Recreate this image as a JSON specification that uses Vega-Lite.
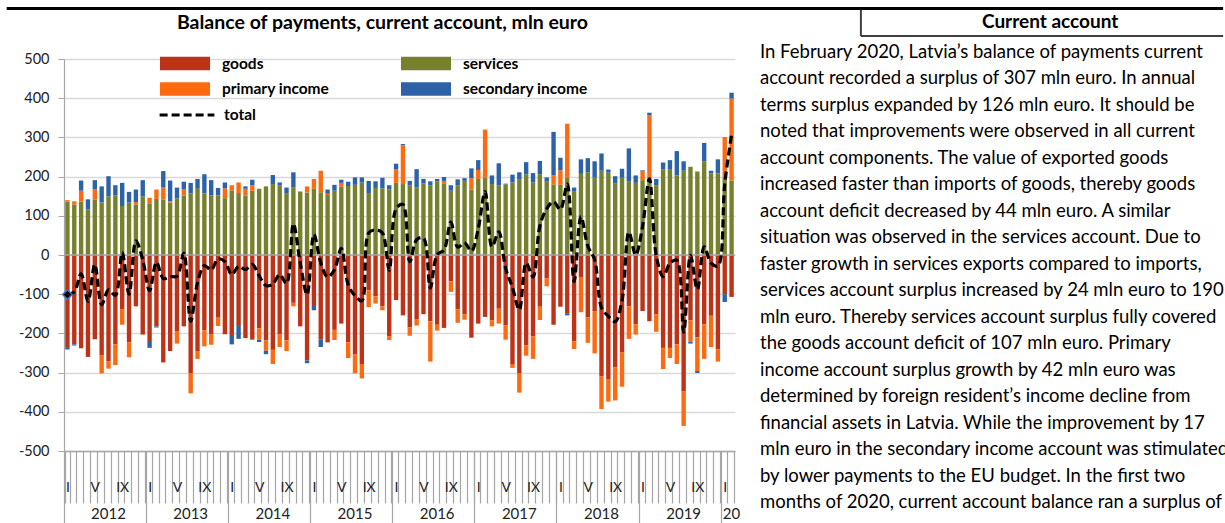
{
  "$schema": "https://vega.github.io/schema/vega-lite/v6.json",
  "padding": {"left": 5, "top": 7, "right": 0, "bottom": 0},
  "background": "white",
  "bounds": "flush",
  "spacing": 25,
  "config": {"view": {"stroke": null}, "font": "Lato"},
  "datasets": {
    "ord": [
      {"series": "goods", "o": 1},
      {"series": "services", "o": 2},
      {"series": "primary income", "o": 3},
      {"series": "secondary income", "o": 4}
    ]
  },
  "hconcat": [
    {
      "width": 671,
      "height": 392,
      "title": {"text": "Balance of payments, current account, mln euro", "font": "Lato", "fontSize": 19.5, "fontWeight": "bold", "color": "#000", "anchor": "middle", "offset": 18, "dx": -17},
      "data": {"values": [
        {"m":"2012-01","goods":-235,"services":136,"primary income":4,"secondary income":-6,"total":-101},
        {"m":"2012-02","goods":-228,"services":129,"primary income":8,"secondary income":-3,"total":-94},
        {"m":"2012-03","goods":-238,"services":136,"primary income":28,"secondary income":26,"total":-48},
        {"m":"2012-04","goods":-260,"services":116,"primary income":0,"secondary income":26,"total":-118},
        {"m":"2012-05","goods":-215,"services":142,"primary income":25,"secondary income":24,"total":-24},
        {"m":"2012-06","goods":-255,"services":134,"primary income":-47,"secondary income":41,"total":-127},
        {"m":"2012-07","goods":-271,"services":149,"primary income":-19,"secondary income":52,"total":-89},
        {"m":"2012-08","goods":-228,"services":152,"primary income":-53,"secondary income":26,"total":-103},
        {"m":"2012-09","goods":-138,"services":125,"primary income":-40,"secondary income":59,"total":6},
        {"m":"2012-10","goods":-223,"services":134,"primary income":-38,"secondary income":27,"total":-100},
        {"m":"2012-11","goods":-131,"services":129,"primary income":6,"secondary income":32,"total":36},
        {"m":"2012-12","goods":-203,"services":149,"primary income":0,"secondary income":42,"total":-12},
        {"m":"2013-01","goods":-222,"services":132,"primary income":14,"secondary income":-15,"total":-91},
        {"m":"2013-02","goods":-182,"services":143,"primary income":24,"secondary income":-3,"total":-18},
        {"m":"2013-03","goods":-274,"services":142,"primary income":30,"secondary income":42,"total":-60},
        {"m":"2013-04","goods":-245,"services":134,"primary income":3,"secondary income":53,"total":-55},
        {"m":"2013-05","goods":-194,"services":144,"primary income":-32,"secondary income":28,"total":-54},
        {"m":"2013-06","goods":-182,"services":152,"primary income":15,"secondary income":20,"total":5},
        {"m":"2013-07","goods":-301,"services":157,"primary income":-52,"secondary income":27,"total":-169},
        {"m":"2013-08","goods":-245,"services":169,"primary income":-20,"secondary income":25,"total":-71},
        {"m":"2013-09","goods":-192,"services":157,"primary income":-41,"secondary income":49,"total":-27},
        {"m":"2013-10","goods":-203,"services":152,"primary income":-26,"secondary income":39,"total":-38},
        {"m":"2013-11","goods":-160,"services":152,"primary income":-21,"secondary income":19,"total":-10},
        {"m":"2013-12","goods":-202,"services":145,"primary income":25,"secondary income":15,"total":-17},
        {"m":"2014-01","goods":-204,"services":165,"primary income":13,"secondary income":-24,"total":-50},
        {"m":"2014-02","goods":-181,"services":158,"primary income":27,"secondary income":-33,"total":-29},
        {"m":"2014-03","goods":-212,"services":152,"primary income":17,"secondary income":6,"total":-37},
        {"m":"2014-04","goods":-216,"services":164,"primary income":14,"secondary income":14,"total":-24},
        {"m":"2014-05","goods":-187,"services":169,"primary income":-29,"secondary income":-6,"total":-53},
        {"m":"2014-06","goods":-218,"services":175,"primary income":-26,"secondary income":-9,"total":-78},
        {"m":"2014-07","goods":-242,"services":181,"primary income":-36,"secondary income":23,"total":-74},
        {"m":"2014-08","goods":-203,"services":177,"primary income":-32,"secondary income":8,"total":-50},
        {"m":"2014-09","goods":-218,"services":158,"primary income":-27,"secondary income":14,"total":-73},
        {"m":"2014-10","goods":-122,"services":173,"primary income":-9,"secondary income":38,"total":80},
        {"m":"2014-11","goods":-182,"services":162,"primary income":0,"secondary income":0,"total":-20},
        {"m":"2014-12","goods":-269,"services":159,"primary income":16,"secondary income":-7,"total":-101},
        {"m":"2015-01","goods":-130,"services":169,"primary income":25,"secondary income":-11,"total":53},
        {"m":"2015-02","goods":-216,"services":160,"primary income":55,"secondary income":-19,"total":-20},
        {"m":"2015-03","goods":-223,"services":153,"primary income":3,"secondary income":11,"total":-56},
        {"m":"2015-04","goods":-191,"services":164,"primary income":-26,"secondary income":15,"total":-38},
        {"m":"2015-05","goods":-175,"services":174,"primary income":10,"secondary income":8,"total":17},
        {"m":"2015-06","goods":-223,"services":176,"primary income":-40,"secondary income":11,"total":-76},
        {"m":"2015-07","goods":-254,"services":179,"primary income":-48,"secondary income":19,"total":-104},
        {"m":"2015-08","goods":-278,"services":185,"primary income":-37,"secondary income":13,"total":-117},
        {"m":"2015-09","goods":-90,"services":158,"primary income":-43,"secondary income":31,"total":56},
        {"m":"2015-10","goods":-105,"services":171,"primary income":-19,"secondary income":17,"total":64},
        {"m":"2015-11","goods":-131,"services":170,"primary income":-10,"secondary income":27,"total":56},
        {"m":"2015-12","goods":-207,"services":167,"primary income":-10,"secondary income":11,"total":-39},
        {"m":"2016-01","goods":-115,"services":184,"primary income":34,"secondary income":15,"total":118},
        {"m":"2016-02","goods":-154,"services":181,"primary income":99,"secondary income":3,"total":129},
        {"m":"2016-03","goods":-185,"services":177,"primary income":-21,"secondary income":12,"total":-17},
        {"m":"2016-04","goods":-165,"services":172,"primary income":-15,"secondary income":47,"total":39},
        {"m":"2016-05","goods":-151,"services":183,"primary income":0,"secondary income":11,"total":43},
        {"m":"2016-06","goods":-169,"services":177,"primary income":-103,"secondary income":11,"total":-84},
        {"m":"2016-07","goods":-178,"services":188,"primary income":-15,"secondary income":6,"total":1},
        {"m":"2016-08","goods":-186,"services":183,"primary income":6,"secondary income":10,"total":13},
        {"m":"2016-09","goods":-67,"services":164,"primary income":-27,"secondary income":14,"total":84},
        {"m":"2016-10","goods":-139,"services":177,"primary income":-34,"secondary income":16,"total":20},
        {"m":"2016-11","goods":-151,"services":189,"primary income":-14,"secondary income":7,"total":31},
        {"m":"2016-12","goods":-211,"services":167,"primary income":29,"secondary income":25,"total":10},
        {"m":"2017-01","goods":-175,"services":194,"primary income":23,"secondary income":25,"total":67},
        {"m":"2017-02","goods":-158,"services":198,"primary income":122,"secondary income":0,"total":162},
        {"m":"2017-03","goods":-167,"services":181,"primary income":-15,"secondary income":22,"total":21},
        {"m":"2017-04","goods":-137,"services":177,"primary income":-38,"secondary income":57,"total":59},
        {"m":"2017-05","goods":-179,"services":180,"primary income":-37,"secondary income":2,"total":-34},
        {"m":"2017-06","goods":-278,"services":185,"primary income":-10,"secondary income":20,"total":-83},
        {"m":"2017-07","goods":-301,"services":192,"primary income":-50,"secondary income":19,"total":-140},
        {"m":"2017-08","goods":-231,"services":206,"primary income":-26,"secondary income":31,"total":-20},
        {"m":"2017-09","goods":-208,"services":185,"primary income":-57,"secondary income":24,"total":-56},
        {"m":"2017-10","goods":-132,"services":206,"primary income":-34,"secondary income":34,"total":74},
        {"m":"2017-11","goods":-60,"services":187,"primary income":-20,"secondary income":11,"total":118},
        {"m":"2017-12","goods":-178,"services":179,"primary income":24,"secondary income":111,"total":136},
        {"m":"2018-01","goods":-132,"services":179,"primary income":37,"secondary income":32,"total":116},
        {"m":"2018-02","goods":-150,"services":198,"primary income":137,"secondary income":-4,"total":181},
        {"m":"2018-03","goods":-220,"services":163,"primary income":-20,"secondary income":9,"total":-68},
        {"m":"2018-04","goods":-56,"services":207,"primary income":-90,"secondary income":37,"total":98},
        {"m":"2018-05","goods":-159,"services":211,"primary income":-65,"secondary income":36,"total":23},
        {"m":"2018-06","goods":-143,"services":197,"primary income":-108,"secondary income":42,"total":-12},
        {"m":"2018-07","goods":-310,"services":215,"primary income":-83,"secondary income":44,"total":-134},
        {"m":"2018-08","goods":-318,"services":210,"primary income":-56,"secondary income":8,"total":-156},
        {"m":"2018-09","goods":-286,"services":182,"primary income":-85,"secondary income":19,"total":-170},
        {"m":"2018-10","goods":-249,"services":197,"primary income":-87,"secondary income":23,"total":-116},
        {"m":"2018-11","goods":-131,"services":187,"primary income":-83,"secondary income":85,"total":58},
        {"m":"2018-12","goods":-177,"services":184,"primary income":-26,"secondary income":19,"total":0},
        {"m":"2019-01","goods":-143,"services":191,"primary income":22,"secondary income":3,"total":73},
        {"m":"2019-02","goods":-169,"services":196,"primary income":161,"secondary income":6,"total":194},
        {"m":"2019-03","goods":-151,"services":178,"primary income":-45,"secondary income":16,"total":-2},
        {"m":"2019-04","goods":-237,"services":218,"primary income":-54,"secondary income":18,"total":-55},
        {"m":"2019-05","goods":-237,"services":219,"primary income":-26,"secondary income":23,"total":-21},
        {"m":"2019-06","goods":-228,"services":203,"primary income":-50,"secondary income":62,"total":-13},
        {"m":"2019-07","goods":-348,"services":215,"primary income":-88,"secondary income":24,"total":-197},
        {"m":"2019-08","goods":-167,"services":225,"primary income":-54,"secondary income":-5,"total":-1},
        {"m":"2019-09","goods":-210,"services":213,"primary income":-86,"secondary income":-5,"total":-88},
        {"m":"2019-10","goods":-177,"services":239,"primary income":-88,"secondary income":47,"total":21},
        {"m":"2019-11","goods":-155,"services":208,"primary income":-80,"secondary income":7,"total":-20},
        {"m":"2019-12","goods":-241,"services":208,"primary income":-31,"secondary income":36,"total":-28},
        {"m":"2020-01","goods":-100,"services":198,"primary income":103,"secondary income":-20,"total":181},
        {"m":"2020-02","goods":-107,"services":190,"primary income":209,"secondary income":15,"total":307}
      ]},
      "layer": [
        {
          "transform": [
            {"fold": ["goods", "services", "primary income", "secondary income"], "as": ["series", "value"]},
            {"lookup": "series", "from": {"data": {"name": "ord"}, "key": "series", "fields": ["o"]}}
          ],
          "mark": {"type": "bar"},
          "encoding": {
            "x": {
              "field": "m", "type": "ordinal", "sort": null,
              "scale": {"paddingInner": 0.36, "paddingOuter": 0.18},
              "axis": {
                "orient": "bottom", "title": null, "tickBand": "extent", "tickSize": 52,
                "tickColor": "#A6A6A6", "tickWidth": 1.2, "domainColor": "#A6A6A6", "domainWidth": 1.5,
                "labelAngle": 0, "labelFont": "Lato", "labelFontSize": 14, "labelColor": "#222",
                "labelPadding": -23, "labelOverlap": false, "grid": false,
                "labelExpr": "substring(datum.value,5,7)=='01' ? 'I' : substring(datum.value,5,7)=='05' ? 'V' : substring(datum.value,5,7)=='09' ? 'IX' : ''"
              }
            },
            "y": {
              "field": "value", "type": "quantitative", "stack": "zero",
              "scale": {"domain": [-500, 500], "nice": false},
              "axis": {
                "orient": "left", "title": null, "values": [-500, -400, -300, -200, -100, 0, 100, 200, 300, 400, 500],
                "labelExpr": "'' + datum.value", "labelOverlap": false, "labelFlush": false,
                "labelFont": "Lato", "labelFontSize": 14.5, "labelColor": "#222", "labelPadding": 9,
                "tickSize": 6, "tickColor": "#A6A6A6", "domainColor": "#A6A6A6", "domainWidth": 1.2,
                "grid": true, "gridColor": "#D9D9D9", "gridWidth": 1.5
              }
            },
            "color": {
              "field": "series", "type": "nominal",
              "scale": {"domain": ["goods", "services", "primary income", "secondary income"], "range": ["#BE3318", "#77812D", "#FF6A10", "#2E62A8"]},
              "legend": {
                "orient": "none", "legendX": 108.5, "legendY": -8, "columns": 2, "direction": "horizontal",
                "title": null, "symbolType": "M-2,-0.54H2V0.54H-2Z", "symbolSize": 625, "symbolStrokeWidth": 0,
                "labelFont": "Lato", "labelFontSize": 15.5, "labelFontWeight": "bold", "labelColor": "#000",
                "labelOffset": 24.5, "columnPadding": 71, "rowPadding": 4.5, "padding": 0
              }
            },
            "order": {"field": "o", "type": "quantitative"}
          }
        },
        {
          "data": {"values": [{}]},
          "mark": {"type": "rule", "color": "#A6A6A6", "strokeWidth": 1.5},
          "encoding": {"y": {"datum": 0, "axis": null}}
        },
        {
          "mark": {"type": "line", "interpolate": "catmull-rom", "strokeWidth": 3.2, "color": "#000"},
          "encoding": {
            "x": {
              "field": "m", "type": "ordinal", "sort": null,
              "axis": {
                "orient": "bottom", "title": null,
                "values": ["2012-01", "2013-01", "2014-01", "2015-01", "2016-01", "2017-01", "2018-01", "2019-01", "2020-01"],
                "bandPosition": -0.28, "tickSize": 72, "tickColor": "#A6A6A6", "tickWidth": 1.2,
                "labels": false, "domain": false, "grid": false
              }
            },
            "y": {"field": "total", "type": "quantitative", "axis": null},
            "strokeDash": {
              "datum": "total",
              "scale": {"domain": ["total"], "range": [[8, 4]]},
              "legend": {
                "orient": "none", "legendX": 94, "legendY": 27, "title": null,
                "symbolSize": 3000, "symbolStrokeWidth": 3.2, "symbolStrokeColor": "#000",
                "labelFont": "Lato", "labelFontSize": 15.5, "labelFontWeight": "bold", "labelColor": "#000",
                "labelOffset": 8, "padding": 0
              }
            }
          }
        },
        {
          "transform": [{"filter": "datum.m == '2012-01'"}],
          "mark": {"type": "point", "shape": "diamond", "filled": true, "fill": "#000", "stroke": "#4472C4", "strokeWidth": 1.5, "size": 90, "opacity": 1},
          "encoding": {
            "x": {
              "field": "m", "type": "ordinal", "sort": null,
              "axis": {
                "orient": "bottom", "title": null,
                "values": ["2012-07", "2013-07", "2014-07", "2015-07", "2016-07", "2017-07", "2018-07", "2019-07", "2020-02"],
                "bandPosition": -0.28, "ticks": false, "domain": false, "grid": false,
                "labelAngle": 0, "labelFont": "Lato", "labelFontSize": 15, "labelColor": "#222",
                "labelPadding": 55, "labelOverlap": false,
                "labelExpr": "substring(datum.value,0,4)=='2020' ? '20' : substring(datum.value,0,4)"
              }
            },
            "y": {"field": "total", "type": "quantitative", "axis": null}
          }
        }
      ],
      "resolve": {"axis": {"x": "independent", "y": "independent"}}
    },
    {
      "width": 465,
      "height": 464,
      "data": {"values": [
        {"n": 1, "t": "In February 2020, Latvia’s balance of payments current"},
        {"n": 2, "t": "account recorded a surplus of 307 mln euro. In annual"},
        {"n": 3, "t": "terms surplus expanded by 126 mln euro. It should be"},
        {"n": 4, "t": "noted that improvements were observed in all current"},
        {"n": 5, "t": "account components. The value of exported goods"},
        {"n": 6, "t": "increased faster than imports of goods, thereby goods"},
        {"n": 7, "t": "account deficit decreased by 44 mln euro. A similar"},
        {"n": 8, "t": "situation was observed in the services account. Due to"},
        {"n": 9, "t": "faster growth in services exports compared to imports,"},
        {"n": 10, "t": "services account surplus increased by 24 mln euro to 190"},
        {"n": 11, "t": "mln euro. Thereby services account surplus fully covered"},
        {"n": 12, "t": "the goods account deficit of 107 mln euro. Primary"},
        {"n": 13, "t": "income account surplus growth by 42 mln euro was"},
        {"n": 14, "t": "determined by foreign resident’s income decline from"},
        {"n": 15, "t": "financial assets in Latvia. While the improvement by 17"},
        {"n": 16, "t": "mln euro in the secondary income account was stimulated"},
        {"n": 17, "t": "by lower payments to the EU budget. In the first two"},
        {"n": 18, "t": "months of 2020, current account balance ran a surplus of"}
      ]},
      "layer": [
        {
          "data": {"values": [{}]},
          "mark": {"type": "rule", "color": "#000", "strokeWidth": 3},
          "encoding": {
            "x": {"datum": -1.62, "type": "quantitative", "scale": {"domain": [0, 1], "nice": false}, "axis": null},
            "x2": {"datum": 0.996},
            "y": {"datum": -0.643, "type": "quantitative", "scale": {"domain": [1.2645, 18.794], "reverse": true, "nice": false, "zero": false}, "axis": null}
          }
        },
        {
          "data": {"values": [{}]},
          "mark": {"type": "rule", "color": "#404040", "strokeWidth": 2},
          "encoding": {
            "x": {"datum": 0.217, "type": "quantitative", "scale": {"domain": [0, 1], "nice": false}, "axis": null},
            "y": {"datum": -0.6, "type": "quantitative", "scale": {"domain": [1.2645, 18.794], "reverse": true, "nice": false, "zero": false}, "axis": null},
            "y2": {"datum": 0.4}
          }
        },
        {
          "data": {"values": [{}]},
          "mark": {"type": "rule", "color": "#404040", "strokeWidth": 2},
          "encoding": {
            "x": {"datum": 0.217, "type": "quantitative", "scale": {"domain": [0, 1], "nice": false}, "axis": null},
            "x2": {"datum": 0.996},
            "y": {"datum": 0.4, "type": "quantitative", "scale": {"domain": [1.2645, 18.794], "reverse": true, "nice": false, "zero": false}, "axis": null}
          }
        },
        {
          "data": {"values": [{"h": "Current account"}]},
          "mark": {"type": "text", "font": "Lato", "fontSize": 19, "fontWeight": "bold", "color": "#000", "align": "center", "baseline": "middle"},
          "encoding": {
            "x": {"datum": 0.624, "type": "quantitative", "scale": {"domain": [0, 1], "nice": false}, "axis": null},
            "y": {"datum": -0.133, "type": "quantitative", "scale": {"domain": [1.2645, 18.794], "reverse": true, "nice": false, "zero": false}, "axis": null},
            "text": {"field": "h"}
          }
        },
        {
          "transform": [{"filter": "datum.n == 1"}],
          "mark": {"type": "text", "font": "Lato", "fontSize": 18.5, "color": "#000", "align": "left", "baseline": "middle"},
          "encoding": {
            "x": {"datum": 0, "type": "quantitative", "scale": {"domain": [0, 1], "nice": false}, "axis": null},
            "y": {"field": "n", "type": "quantitative", "scale": {"domain": [1.2645, 18.794], "reverse": true, "nice": false, "zero": false}, "axis": null},
            "text": {"field": "t"}
          }
        },
        {
          "transform": [{"filter": "datum.n > 1"}],
          "mark": {"type": "text", "font": "Lato", "fontSize": 18.5, "color": "#000", "align": "left", "baseline": "middle", "clip": true},
          "encoding": {
            "x": {"datum": 0, "type": "quantitative", "scale": {"domain": [0, 1], "nice": false}, "axis": null},
            "y": {"field": "n", "type": "quantitative", "scale": {"domain": [1.2645, 18.794], "reverse": true, "nice": false, "zero": false}, "axis": null},
            "text": {"field": "t"}
          }
        }
      ]
    }
  ]
}
